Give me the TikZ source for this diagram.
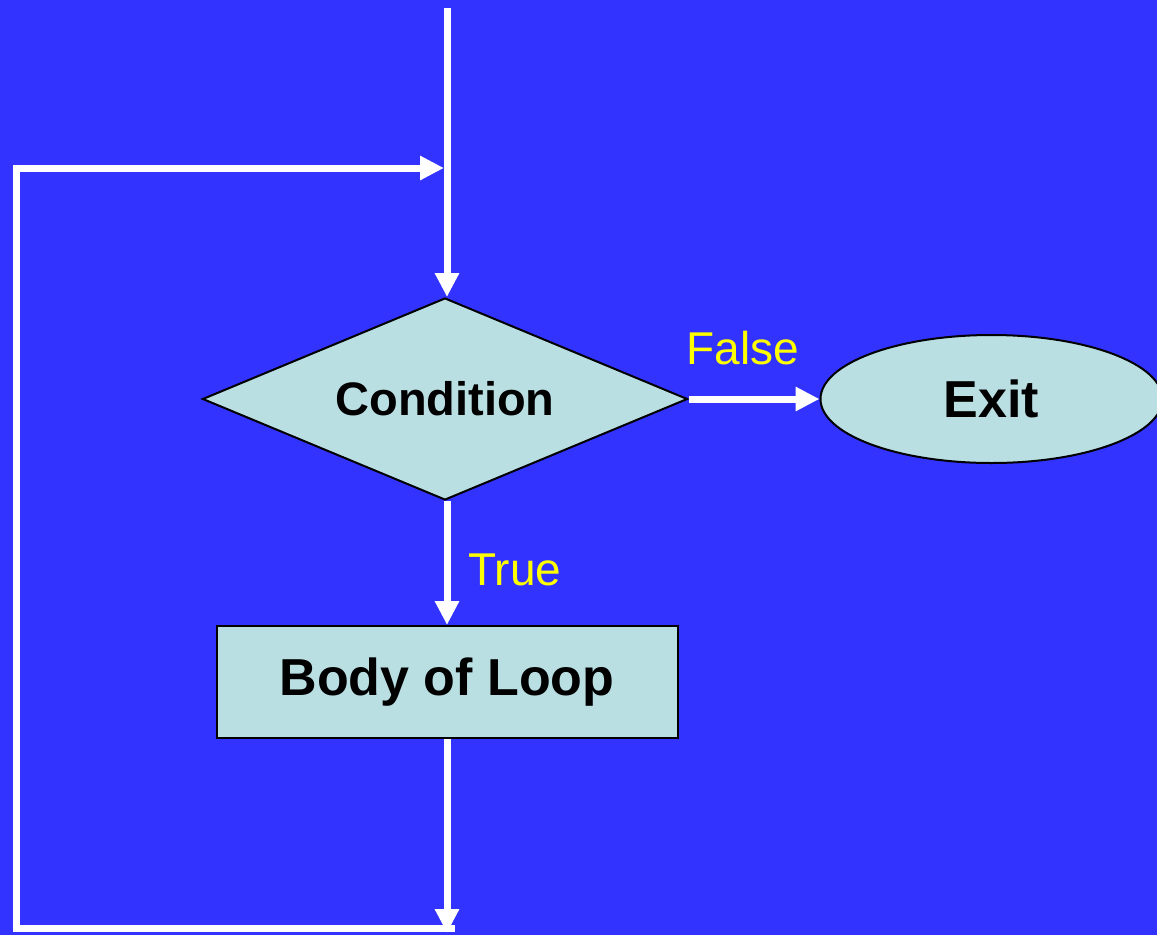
\documentclass[tikz,border=0pt]{standalone}
\usepackage{fontspec}
\setmainfont{Liberation Sans}
\usetikzlibrary{positioning, arrows.meta, shapes.geometric}
\definecolor{slideblue}{HTML}{3333FF}
\definecolor{boxfill}{HTML}{B9DFE3}
\definecolor{labelyellow}{HTML}{FFFF00}

\begin{document}
\begin{tikzpicture}[
    x=1pt, y=-1pt,
    >={Triangle[length=24pt, width=23pt]},
    decision/.style={draw, diamond, aspect=2.4, fill=boxfill, line width=2pt, inner sep=0pt,
                     minimum width=485pt, minimum height=202pt,
                     font=\fontsize{47}{56}\selectfont\bfseries},
    process/.style={draw, rectangle, fill=boxfill, line width=2pt, inner sep=0pt,
                    minimum width=461pt, minimum height=112pt,
                    font=\fontsize{52}{62}\selectfont\bfseries},
    terminal/.style={draw, ellipse, fill=boxfill, line width=2pt, inner sep=0pt,
                     minimum width=342pt, minimum height=128pt,
                     font=\fontsize{52}{62}\selectfont\bfseries},
    lbl/.style={text=labelyellow, font=\fontsize{46}{55}\selectfont},
    arr/.style={draw=white, ->, line width=7pt, color=white},
]
% --- Background ---
\useasboundingbox (0,0) rectangle (1157,935);
\fill[slideblue] (0,0) rectangle (1157,935);

% --- Nodes ---
\node[decision] (cond) at (445,399) {Condition};
\node[terminal, right=131pt of cond] (exit) {Exit};
\node[process, below=124pt of cond, xshift=2pt] (body) {Body of Loop};

\node[lbl] (false) at (743,348) {False};
\node[lbl] (true) at (515,570) {True};

% loop points
\coordinate (entry) at (447,8);
\coordinate (join) at (447,168);
\coordinate (bottom) at (447,933);
\coordinate (botleft) at (16,928);
\coordinate (topleft) at (16,168);

% --- Arrows ---
\draw[arr] (entry) -- (entry |- cond.north);
\draw[arr] (cond.east) -- (exit.west);
\draw[arr] (entry |- cond.south) -- (entry |- body.north);
\draw[arr] (entry |- body.south) -- (bottom);

% Loop back (outside, left)
\draw[arr, line cap=rect] ([xshift=4pt]bottom |- botleft) -- (botleft) -- (topleft)
  -- ([xshift=-3pt]join);
\end{tikzpicture}
\end{document}
